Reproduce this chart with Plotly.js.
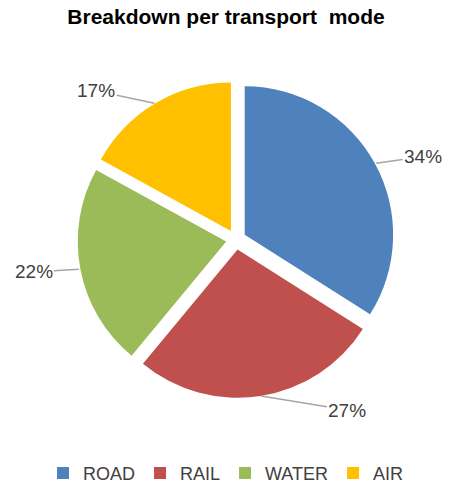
<!DOCTYPE html>
<html>
<head>
<meta charset="utf-8">
<script src="https://cdn.plot.ly/plotly-3.0.1.min.js"></script>
<style>html,body{margin:0;padding:0;background:#fff;}#chart{width:452px;height:492px;}</style>
</head>
<body>
<div id="chart"></div>
<script>
const categories = ["ROAD", "RAIL", "WATER", "AIR"];
const shares = [34, 27, 22, 17];
const colors = ["#4F81BD", "#C0504D", "#9BBB59", "#FFC000"];
const chartTitle = "Breakdown per transport  mode";

// layout geometry (style, not data)
const W = 452, H = 492;
const PULL = 0.067;
const domX = [0.1681, 0.8761];
const domY = [0.1829, 0.8333];
const LABEL_R = 205;      // label distance from centre (px)
const LABEL_SQUASH = 0.85;

const trace = {
  type: "pie",
  labels: categories,
  values: shares,
  sort: false,
  direction: "clockwise",
  rotation: 0,
  pull: categories.map(() => PULL),
  marker: {colors: colors, line: {width: 0}},
  textinfo: "none",
  hoverinfo: "label+percent",
  domain: {x: domX, y: domY},
  automargin: false
};

// pie geometry as plotly lays it out (margins are zero)
const cx = W * (domX[0] + domX[1]) / 2;
const cy = H * (1 - (domY[0] + domY[1]) / 2);
const r = Math.min(W * (domX[1] - domX[0]), H * (domY[1] - domY[0])) / (2 * (1 + PULL));
const total = shares.reduce((a, b) => a + b, 0);

const annotations = [];
let cum = 0;
shares.forEach((v, i) => {
  const a0 = cum / total * 2 * Math.PI;
  cum += v;
  const a1 = cum / total * 2 * Math.PI;
  const mid = (a0 + a1) / 2;
  const s = Math.sin(mid), c = Math.cos(mid);
  const er = r * (1 + PULL);
  const ex = cx + er * s, ey = cy - er * c;
  const dy = -LABEL_SQUASH * LABEL_R * c;
  const dx = (s >= 0 ? 1 : -1) * Math.sqrt(LABEL_R * LABEL_R - dy * dy);
  const lx = cx + dx, ly = cy + dy;
  annotations.push({
    xref: "paper", yref: "paper",
    x: ex / W, y: 1 - ey / H,
    ax: lx - ex, ay: ly - ey,
    text: Math.round(v / total * 100) + "%",
    showarrow: true, arrowhead: 0, arrowwidth: 1.5, arrowcolor: "#A6A6A6",
    standoff: 0, startstandoff: 0,
    font: {family: "Liberation Sans, Arial, sans-serif", size: 19, color: "#404040"},
    borderpad: 1
  });
});

const layout = {
  width: W,
  height: H,
  margin: {l: 0, r: 0, t: 0, b: 0},
  paper_bgcolor: "#ffffff",
  title: {
    text: "<b>" + chartTitle + "</b>",
    font: {family: "Liberation Sans, Arial, sans-serif", size: 21, color: "#000000"},
    x: 0.5, xanchor: "center", xref: "paper",
    y: 0.966, yanchor: "middle", yref: "container"
  },
  annotations: annotations,
  showlegend: true,
  legend: {
    orientation: "h",
    x: 0.5, xanchor: "center",
    y: 0.028, yanchor: "middle",
    font: {family: "Liberation Sans, Arial, sans-serif", size: 18, color: "#404040"},
    traceorder: "normal",
    itemclick: false
  }
};

Plotly.newPlot("chart", [trace], layout, {displayModeBar: false, staticPlot: true});
</script>
</body>
</html>
